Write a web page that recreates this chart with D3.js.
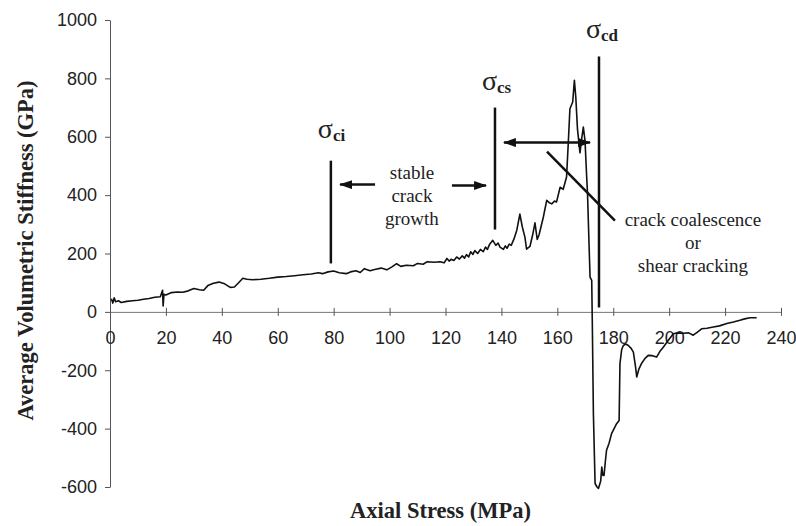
<!DOCTYPE html>
<html lang="en">
<head>
    <meta charset="UTF-8">
    <title>Volumetric stiffness</title>
    <script src="https://cdn.jsdelivr.net/npm/d3@7"></script>
    <style>
        body { margin: 0; background: #fff; }
        .tick text { font-family: "Liberation Sans", Arial, sans-serif; font-size: 18px; fill: #222; }
        .ttl { font-family: "Liberation Serif", "Times New Roman", serif; font-size: 22.5px; font-weight: bold; fill: #222; }
        .note { font-family: "Liberation Serif", "Times New Roman", serif; font-size: 19px; fill: #222; }
    </style>
</head>
<body>
    <div id="my_dataviz"></div>

    <script>
        // values
        const stress = [0.5, 1, 1.5, 2, 3, 4, 6, 8, 10, 12, 14, 16, 18, 18.8, 19, 19.3, 20, 22, 24, 26,
            28, 30, 32, 33.5, 35, 37, 39, 41, 43, 44.5, 46, 47.5, 49, 51, 54, 57, 60, 63, 66, 69,
            72, 74.5, 76, 78, 80, 82, 84.5, 86, 88, 89.5, 91, 93, 95, 97, 99, 101, 102.5, 104, 106, 108.5,
            110, 112, 113.5, 116, 118, 119.5, 120.5, 121.3, 122, 123, 124, 125, 126, 126.8, 127.5, 128.3, 129, 129.8, 130.5, 131.5,
            132.5, 133.5, 134.3, 135, 135.8, 136.9, 138, 138.8, 139.5, 140.7, 141.4, 142, 142.8, 143.5, 144.5, 145.5, 146.6, 147.5, 148.4, 149,
            150.2, 151.2, 152, 152.8, 153.5, 155, 156.2, 157, 158, 159, 159.7,
            161, 162.1, 163.3, 163.9, 164.5, 165.5, 166.1, 166.6, 167.2, 168.1, 168.8, 169.3, 169.9, 170.5, 170.8, 171.3, 171.7, 172.3, 172.5, 172.9,
            173.5, 174.2, 174.7, 175.5, 175.9, 176.3, 176.7, 177.2, 177.6, 178.5, 179.4, 180.3, 181.2, 182.1, 182.4, 183, 183.6, 184.5, 185.4, 186.4,
            187.2, 188, 188.4, 189.2, 190.1, 191.3, 192.5, 194, 195.5, 196.7, 197.9, 199.5, 201.5, 203, 205.1, 207, 208.6, 210, 211.6, 213.5,
            215.8, 218, 220.6, 223, 225.3, 227, 228.9, 231.3];
        const stiffness = [45, 30, 48, 35, 38, 32, 36, 38, 40, 43, 46, 50, 52, 74, 20, 60, 58, 66, 68, 67,
            72, 80, 76, 74, 90, 98, 102, 96, 84, 85, 100, 115, 112, 110, 112, 115, 119, 121, 124, 127,
            130, 134, 131, 137, 140, 134, 131, 137, 141, 135, 148, 141, 146, 150, 144, 155, 165, 156, 160, 158,
            166, 163, 172, 170, 172, 168, 183, 174, 180, 176, 188, 181, 192, 184, 196, 188, 206, 197, 210, 200,
            214, 206, 222, 214, 232, 245, 228, 236, 222, 214, 226, 218, 232, 228, 250, 280, 335, 290, 256, 215,
            224, 265, 305, 248, 265, 325, 382, 375, 370, 380, 376,
            427, 420, 462, 576, 696, 719, 793, 736, 627, 545, 600, 633, 587, 462, 405, 245, 119, 108, -29, -349,
            -588, -600, -605, -580, -532, -560, -560, -510, -474, -450, -417, -400, -383, -372, -177, -130, -115, -110, -115, -125,
            -138, -190, -223, -195, -177, -160, -149, -150, -155, -135, -121, -100, -75, -72, -73, -72, -80, -70, -58, -56,
            -52, -48, -40, -35, -29, -24, -20, -20];

        const xTicks = [0, 20, 40, 60, 80, 100, 120, 140, 160, 180, 200, 220, 240];
        const yTicks = [-600, -400, -200, 0, 200, 400, 600, 800, 1000];

        // stress thresholds: [label subscript, stress, top, bottom]
        const thresholds = [["ci", 79, 518, 166], ["cs", 137.7, 700, 282], ["cd", 174.9, 875, 15]];
        const labelY = [595, 760, 940];

        const margin = {top: 20, right: 15, bottom: 39, left: 110},
            width = 796 - margin.left - margin.right,
            height = 526 - margin.top - margin.bottom;

        const svg = d3.select("#my_dataviz")
            .append("svg")
            .attr("width", 796)
            .attr("height", 526)
            .append("g")
            .attr("transform", `translate(${margin.left},${margin.top})`);

        const x = d3.scaleLinear().domain([0, 240]).range([0, width]);
        const y = d3.scaleLinear().domain([-600, 1000]).range([height, 0]);

        // Y axis
        const yAxis = svg.append("g")
            .call(d3.axisLeft(y).tickValues(yTicks).tickFormat(d => String(d))
                .tickSize(5).tickSizeOuter(0).tickPadding(8));
        yAxis.select(".domain").attr("stroke", "#555");
        yAxis.selectAll(".tick line").attr("stroke", "#555");

        // X axis sits at zero
        const xAxis = svg.append("g")
            .attr("transform", `translate(0,${y(0)})`)
            .call(d3.axisBottom(x).tickValues(xTicks).tickFormat(d => String(d))
                .tickSize(4).tickSizeOuter(0).tickPadding(15.5));
        xAxis.select(".domain").attr("stroke", "#777");
        xAxis.selectAll(".tick line").attr("y1", -4).attr("stroke", "#555");

        // curve
        const pts = stress.map((s, i) => [s, stiffness[i]]);
        svg.append("path")
            .datum(pts)
            .attr("fill", "none")
            .attr("stroke", "#111")
            .attr("stroke-width", 1.6)
            .attr("stroke-linejoin", "round")
            .attr("d", d3.line().x(d => x(d[0])).y(d => y(d[1])));

        // arrow head
        const defs = svg.append("defs");
        defs.append("marker")
            .attr("id", "head")
            .attr("markerUnits", "userSpaceOnUse")
            .attr("viewBox", "0 0 13 9")
            .attr("refX", 12).attr("refY", 4.5)
            .attr("markerWidth", 13).attr("markerHeight", 9)
            .attr("orient", "auto-start-reverse")
            .append("path").attr("d", "M0,0L13,4.5L0,9Z").attr("fill", "#111");

        // threshold lines
        thresholds.forEach((t, i) => {
            svg.append("line")
                .attr("x1", x(t[1])).attr("x2", x(t[1]))
                .attr("y1", y(t[2])).attr("y2", y(t[3]))
                .attr("stroke", "#111").attr("stroke-width", 2.5);
            const lab = svg.append("text")
                .attr("class", "note")
                .attr("x", x(t[1]) - 13)
                .attr("y", y(labelY[i]));
            lab.append("tspan").text("σ").style("font-size", "28px");
            lab.append("tspan").text(t[0]).attr("dy", 3).style("font-weight", "bold").style("font-size", "17px");
        });

        // arrows
        const arrow = (x1, y1, x2, y2, both) => {
            const l = svg.append("line")
                .attr("x1", x(x1)).attr("y1", y(y1))
                .attr("x2", x(x2)).attr("y2", y(y2))
                .attr("stroke", "#111").attr("stroke-width", 2.5)
                .attr("marker-end", "url(#head)");
            if (both) l.attr("marker-start", "url(#head)");
        };
        arrow(94.8, 436, 82.3, 436);
        arrow(122.3, 433, 134.5, 433);
        arrow(140.9, 580, 171.7, 580, true);
        svg.append("line")
            .attr("x1", x(156.3)).attr("y1", y(549))
            .attr("x2", x(180.6)).attr("y2", y(313))
            .attr("stroke", "#111").attr("stroke-width", 2.5);

        // notes
        const note = (lines, cx, top) => {
            lines.forEach((s, i) => {
                svg.append("text").attr("class", "note")
                    .attr("text-anchor", "middle")
                    .attr("x", x(cx)).attr("y", y(top) + i * 23)
                    .text(s);
            });
        };
        note(["stable", "crack", "growth"], 108, 456);
        note(["crack coalescence", "or", "shear cracking"], 208.5, 293);

        // axis titles
        svg.append("text").attr("class", "ttl")
            .attr("text-anchor", "middle")
            .attr("x", x(120) - 5)
            .attr("y", 498)
            .text("Axial Stress (MPa)");
        svg.append("text").attr("class", "ttl")
            .attr("text-anchor", "middle")
            .attr("transform", `translate(-77,${y(200) - 3})rotate(-90)`)
            .text("Average Volumetric Stiffness (GPa)");
    </script>
</body>
</html>
